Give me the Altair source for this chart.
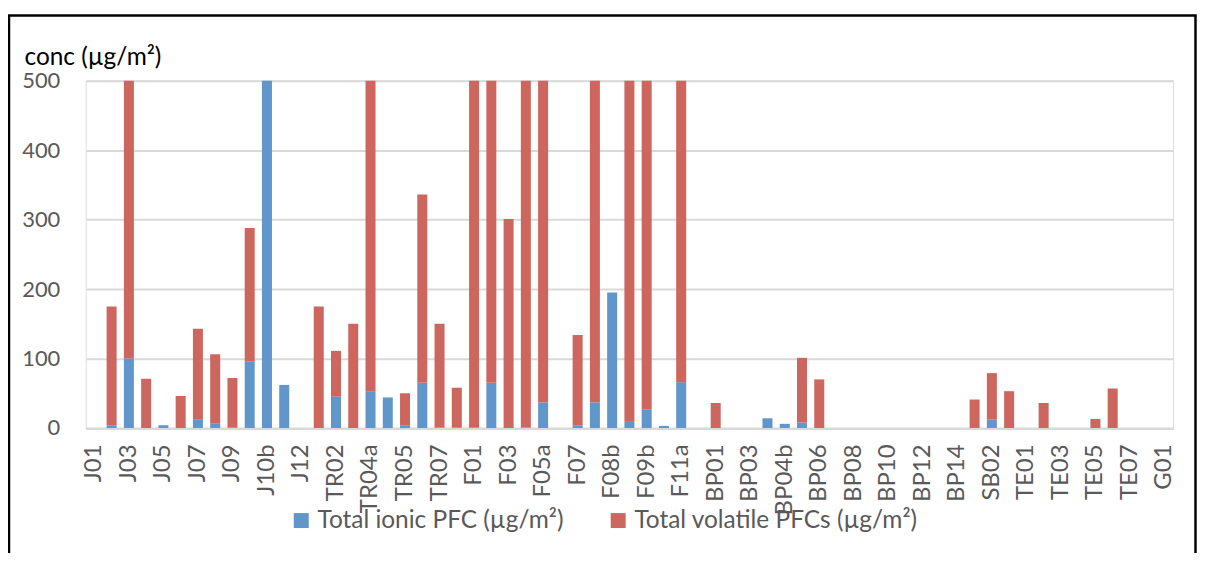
import altair as alt
import pandas as pd

sites = [
    "J01", "J02", "J03", "J04", "J05", "J06", "J07", "J08", "J09", "J10a",
    "J10b", "J11", "J12", "TR01", "TR02", "TR03", "TR04a", "TR04b", "TR05", "TR06",
    "TR07", "TR08", "F01", "F02", "F03", "F04", "F05a", "F05b", "F07", "F08a",
    "F08b", "F09a", "F09b", "F10", "F11a", "F11b", "BP01", "BP02", "BP03", "BP04a",
    "BP04b", "BP05", "BP06", "BP07", "BP08", "BP09", "BP10", "BP11", "BP12", "BP13",
    "BP14", "SB01", "SB02", "SB03", "TE01", "TE02", "TE03", "TE04", "TE05", "TE06",
    "TE07", "TE08", "G01",
]

ionic = [
    0, 4, 100, 0, 4, 0, 12, 6, 1, 96,
    520, 62, 0, 0, 45, 0, 53, 44, 4, 65,
    1, 1, 1, 65, 0, 1, 37, 0, 4, 37,
    195, 10, 27, 3, 66, 0, 0, 0, 0, 14,
    6, 8, 0, 0, 0, 0, 0, 0, 0, 0,
    0, 0, 12, 0, 0, 0, 0, 0, 0, 0,
    0, 0, 0,
]

volatile = [
    0, 171, 420, 71, 0, 46, 131, 100, 71, 192,
    0, 0, 0, 175, 66, 150, 467, 0, 46, 271,
    149, 57, 519, 455, 301, 519, 483, 0, 130, 483,
    0, 510, 493, 0, 454, 0, 36, 0, 0, 0,
    0, 93, 70, 0, 0, 0, 0, 0, 0, 0,
    0, 41, 67, 53, 0, 36, 0, 0, 13, 57,
    0, 0, 0,
]

series_names = ["Total ionic PFC (µg/m²)", "Total volatile PFCs (µg/m²)"]
series_colors = ["#6096CA", "#CD665F"]
y_ticks = [0, 100, 200, 300, 400, 500]

rows = []
for s, a, b in zip(sites, ionic, volatile):
    rows.append({"site": s, "series": series_names[0], "value": a, "ord": 0})
    rows.append({"site": s, "series": series_names[1], "value": b, "ord": 1})
df = pd.DataFrame(rows)

FONT = "Lato"
GREY = "#595959"

bars = alt.Chart(df).mark_bar(clip=True).encode(
    x=alt.X(
        "site:N",
        sort=sites,
        scale=alt.Scale(domain=sites, paddingInner=0.42, paddingOuter=0.21),
        axis=alt.Axis(
            values=sites[::2],
            title=None,
            labelAngle=270,
            labelAlign="right",
            labelBaseline="middle",
            labelPadding=16,
            labelFontSize=24,
            labelFont=FONT,
            labelColor=GREY,
            labelOverlap=False,
            ticks=False,
            domainColor="#d9d9d9",
            domainWidth=2,
            grid=False,
        ),
    ),
    y=alt.Y(
        "value:Q",
        stack="zero",
        scale=alt.Scale(domain=[0, 500], nice=False),
        axis=alt.Axis(
            values=y_ticks,
            title="conc (µg/m²)",
            titleAngle=0,
            titleAlign="left",
            titleBaseline="alphabetic",
            titleX=-62,
            titleY=-16,
            titleFontSize=24.5,
            titleFont=FONT,
            titleFontWeight="normal",
            titleColor="#000000",
            labelFontSize=22,
            labelFont=FONT,
            labelColor=GREY,
            labelPadding=26,
            ticks=False,
            domain=False,
            grid=True,
            gridColor="#d9d9d9",
            gridWidth=2,
        ),
    ),
    color=alt.Color(
        "series:N",
        scale=alt.Scale(domain=series_names, range=series_colors),
        legend=alt.Legend(
            title=None,
            orient="none",
            legendX=204,
            legendY=429,
            direction="horizontal",
            symbolType="square",
            symbolSize=225,
            symbolStrokeWidth=0,
            labelFontSize=24.5,
            labelFont=FONT,
            labelColor=GREY,
            labelOffset=4,
            labelLimit=500,
            columnPadding=42,
            padding=0,
            offset=0,
        ),
    ),
    order=alt.Order("ord:Q"),
)

frame = alt.Chart(alt.Data(values=[{"a": 1}])).mark_rect(
    fillOpacity=0, stroke="#000000", strokeWidth=2.5
).encode(
    x=alt.value(-77),
    x2=alt.value(1113.5),
    y=alt.value(-65.5),
    y2=alt.value(600),
)

chart = alt.layer(bars, frame).properties(
    width=1091,
    height=348.5,
    autosize=alt.AutoSizeParams(type="none"),
    padding={"left": 78, "top": 72, "right": 24, "bottom": 124},
).configure_view(stroke=None).configure(background="white")

chart.save("out.html", embed_options={"renderer": "svg", "actions": False})
